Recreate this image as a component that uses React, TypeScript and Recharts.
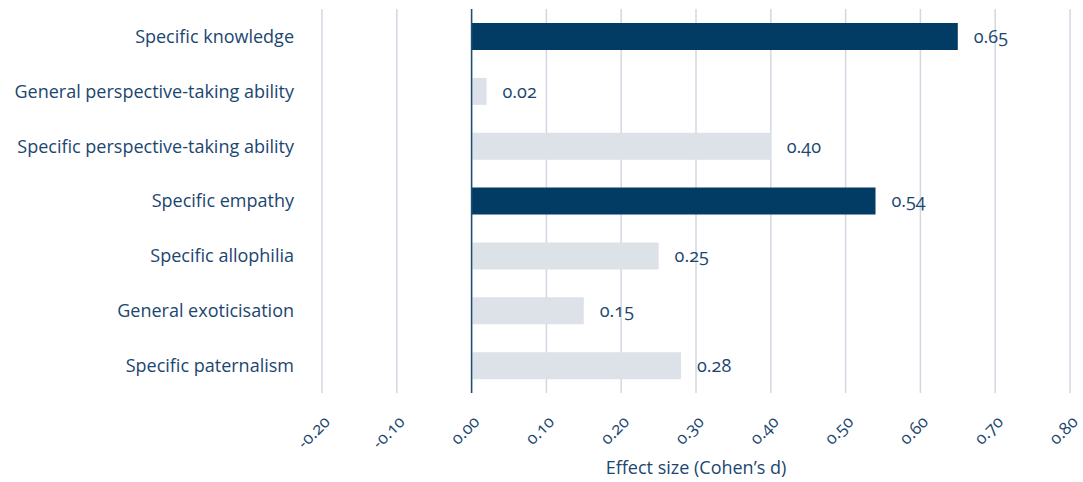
import React from 'react';
import {
  BarChart,
  Bar,
  XAxis,
  YAxis,
  CartesianGrid,
  ReferenceLine,
  LabelList,
  Cell
} from 'recharts';

// Outcome measures, top to bottom
const categories = [
  'Specific knowledge',
  'General perspective-taking ability',
  'Specific perspective-taking ability',
  'Specific empathy',
  'Specific allophilia',
  'General exoticisation',
  'Specific paternalism'
];

// Cohen's d per measure
const effects = [0.65, 0.02, 0.4, 0.54, 0.25, 0.15, 0.28];

// Which measures are drawn in the dark colour
const highlighted = [true, false, false, true, false, false, false];

const xTicks = [-0.2, -0.1, 0, 0.1, 0.2, 0.3, 0.4, 0.5, 0.6, 0.7, 0.8];

const TEXT = '#1b4670';
const DARK = '#023b64';
const LIGHT = '#dde1e8';
const GRID = '#d2d8e1';
const FONT = '"Open Sans", sans-serif';

const data = categories.map((name, i) => ({
  name,
  value: effects[i],
  dark: highlighted[i]
}));

const XTick = (props: any) => {
  const { x, y, payload } = props;
  const px = x + 9;
  const py = y + 22;
  return (
    <text
      x={px}
      y={py}
      transform={`rotate(-45, ${px}, ${py})`}
      textAnchor="end"
      fill={TEXT}
      fontSize={17}
      fontFamily={FONT}
      style={{ fontVariantNumeric: 'oldstyle-nums' }}
    >
      {Number(payload.value).toFixed(2)}
    </text>
  );
};

export default function App() {
  return (
    <div style={{ position: 'absolute', left: 0, top: 0, background: '#fff' }}>
      <BarChart
        width={1083}
        height={482}
        data={data}
        layout="vertical"
        margin={{ top: 9, right: 13, bottom: 0, left: 0 }}
        style={{ fontFamily: FONT, fontVariantNumeric: 'oldstyle-nums' }}
      >
        <CartesianGrid horizontal={false} stroke={GRID} strokeWidth={1.5} />
        <XAxis
          type="number"
          domain={[-0.2, 0.8]}
          ticks={xTicks}
          interval={0}
          axisLine={false}
          tickLine={false}
          height={89}
          tick={<XTick />}
          label={{
            value: 'Effect size (Cohen’s d)',
            position: 'insideBottom',
            offset: 8,
            fill: TEXT,
            fontSize: 18,
            fontFamily: FONT
          }}
        />
        <YAxis
          type="category"
          dataKey="name"
          width={322}
          axisLine={false}
          tickLine={false}
          tickSize={0}
          tickMargin={28}
          interval={0}
          tick={{ fill: TEXT, fontSize: 18, fontFamily: FONT }}
        />
        <Bar dataKey="value" barSize={27} isAnimationActive={false}>
          {data.map((d, i) => (
            <Cell key={`cell-${i}`} fill={d.dark ? DARK : LIGHT} />
          ))}
          <LabelList
            dataKey="value"
            position="right"
            offset={16}
            fill={TEXT}
            fontSize={18}
            fontFamily={FONT}
            formatter={(v: any) => Number(v).toFixed(2)}
          />
        </Bar>
        <ReferenceLine x={0} stroke="#1f4d78" strokeWidth={1.5} />
      </BarChart>
    </div>
  );
}
